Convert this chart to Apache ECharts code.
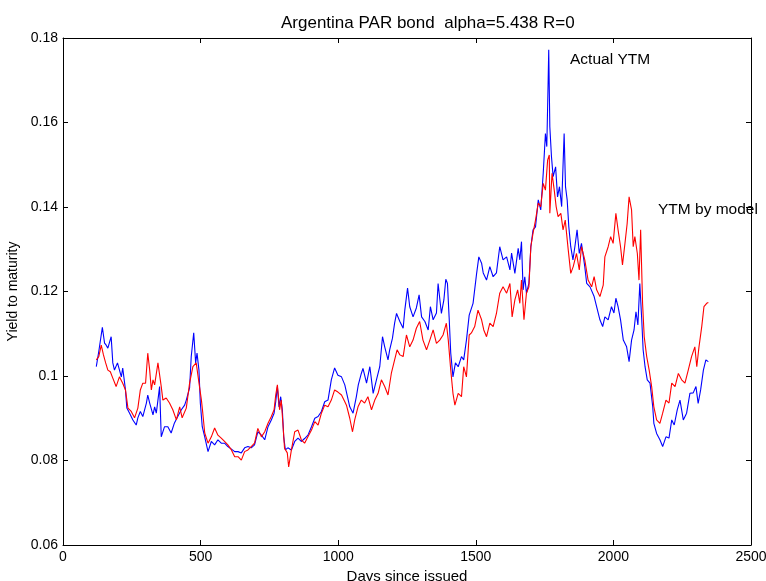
<!DOCTYPE html>
<html>
<head>
<meta charset="utf-8">
<script src="https://cdn.jsdelivr.net/npm/echarts/dist/echarts.min.js"></script>
<style>
html,body{margin:0;padding:0;background:#fff;overflow:hidden;}
#chart{width:766px;height:581px;}
</style>
</head>
<body>
<div id="chart"></div>
<script>
var titleText = 'Argentina PAR bond  alpha=5.438 R=0';
var xAxisName = 'Days since issued';
var yAxisName = 'Yield to maturity';
var actualLabel = 'Actual YTM';
var modelLabel = 'YTM by model';
var xTicks = [0, 500, 1000, 1500, 2000, 2500];
var yTicks = [0.06, 0.08, 0.10, 0.12, 0.14, 0.16, 0.18];

var actualDays = [121,130,143,151,157,163,175,181,187,198,
212,217,227,232,242,254,266,272,281,290,
303,308,315,327,333,339,345,351,357,369,
381,393,405,417,430,442,448,460,466,475,
482,487,494,499,506,515,527,539,551,563,
575,587,599,612,624,636,648,660,672,684,
696,708,721,733,745,757,767,773,779,785,
791,797,802,808,817,830,842,854,866,878,
890,903,915,927,939,951,963,975,987,999,
1012,1024,1042,1054,1066,1073,1084,1090,1103,1115,
1127,1139,1151,1161,1169,1181,1187,1197,1205,1212,
1224,1236,1242,1252,1260,1272,1284,1294,1303,1315,
1327,1335,1345,1357,1363,1375,1384,1391,1397,1403,
1409,1417,1426,1436,1448,1456,1466,1476,1490,1503,
1511,1521,1527,1539,1551,1563,1575,1587,1599,1612,
1624,1630,1642,1654,1660,1666,1672,1678,1684,1693,
1700,1708,1717,1727,1736,1745,1753,1758,1763,1765,
1769,1775,1781,1790,1797,1804,1812,1816,1821,1826,
1832,1838,1845,1853,1860,1868,1876,1884,1896,1903,
1915,1930,1939,1951,1961,1969,1981,1993,2002,2009,
2017,2026,2036,2048,2057,2066,2075,2082,2089,2096,
2103,2108,2115,2123,2133,2143,2147,2157,2169,2179,
2191,2202,2212,2221,2232,2242,2254,2266,2278,2290,
2300,2308,2317,2327,2336,2345];

var actualYtm = [0.1022,0.1058,0.1115,0.1078,0.1073,0.1066,0.1093,0.1031,0.1014,0.1031,
0.0998,0.1019,0.0967,0.0924,0.0912,0.0896,0.0884,0.0901,0.0916,0.0904,
0.0936,0.0955,0.0936,0.0908,0.0927,0.0912,0.0943,0.0975,0.0856,0.0880,
0.0880,0.0865,0.0889,0.0904,0.0920,0.0931,0.0943,0.0972,0.1046,0.1102,
0.1031,0.1054,0.1014,0.0936,0.0880,0.0856,0.0821,0.0845,0.0837,0.0849,
0.0841,0.0841,0.0833,0.0827,0.0821,0.0821,0.0818,0.0830,0.0833,0.0830,
0.0837,0.0868,0.0860,0.0849,0.0880,0.0896,0.0912,0.0939,0.0975,0.0927,
0.0951,0.0920,0.0856,0.0825,0.0830,0.0825,0.0845,0.0853,0.0845,0.0852,
0.0860,0.0880,0.0900,0.0904,0.0916,0.0939,0.0943,0.0991,0.1019,0.1002,
0.0998,0.0979,0.0927,0.0912,0.0951,0.0979,0.1006,0.1018,0.0983,0.1022,
0.0959,0.0991,0.1022,0.1093,0.1069,0.1038,0.1062,0.1089,0.1125,0.1148,
0.1129,0.1113,0.1156,0.1208,0.1164,0.1140,0.1161,0.1192,0.1140,0.1129,
0.1109,0.1164,0.1133,0.1149,0.1219,0.1148,0.1180,0.1229,0.1219,0.1140,
0.1054,0.0998,0.1031,0.1022,0.1046,0.1038,0.1085,0.1144,0.1172,0.1243,
0.1282,0.1267,0.1244,0.1227,0.1259,0.1235,0.1244,0.1306,0.1275,0.1282,
0.1251,0.1291,0.1243,0.1302,0.1275,0.1318,0.1204,0.1235,0.1196,0.1219,
0.1306,0.1346,0.1353,0.1417,0.1393,0.1480,0.1574,0.1543,0.1701,0.1772,
0.1590,0.1519,0.1472,0.1495,0.1424,0.1448,0.1401,0.1480,0.1574,0.1448,
0.1417,0.1353,0.1306,0.1275,0.1306,0.1346,0.1290,0.1314,0.1259,0.1219,
0.1211,0.1188,0.1164,0.1133,0.1117,0.1140,0.1133,0.1164,0.1149,0.1184,
0.1164,0.1133,0.1085,0.1069,0.1034,0.1085,0.1109,0.1152,0.1121,0.1219,
0.1133,0.1062,0.1022,0.0991,0.0983,0.0927,0.0888,0.0864,0.0849,0.0833,
0.0856,0.0853,0.0896,0.0884,0.0920,0.0943,0.0896,0.0912,0.0959,0.0960,
0.0975,0.0935,0.0967,0.1014,0.1038,0.1034];

var modelDays = [121,130,139,147,155,163,172,181,193,205,
217,227,236,248,260,272,281,290,300,308,
315,321,327,333,345,351,357,363,375,387,
399,412,424,433,448,460,472,484,496,503,
508,515,527,539,551,563,575,587,599,612,
624,636,648,660,672,684,696,708,721,733,
745,757,767,773,779,787,793,799,805,815,
820,830,842,854,866,878,890,903,915,927,
939,951,963,975,987,999,1012,1024,1030,1042,
1052,1060,1072,1084,1096,1108,1121,1133,1145,1157,
1169,1181,1193,1205,1214,1224,1236,1248,1260,1272,
1284,1296,1308,1321,1333,1345,1357,1369,1381,1393,
1400,1409,1417,1424,1436,1448,1456,1466,1476,1484,
1496,1508,1521,1529,1539,1551,1563,1575,1587,1599,
1612,1624,1632,1642,1652,1660,1666,1675,1684,1693,
1700,1708,1717,1727,1736,1745,1753,1761,1767,1769,
1777,1785,1792,1799,1809,1817,1825,1836,1845,1854,
1866,1876,1884,1896,1908,1921,1930,1939,1951,1963,
1969,1981,1990,1999,2009,2017,2026,2033,2042,2050,
2057,2066,2072,2078,2087,2093,2099,2106,2112,2121,
2130,2139,2147,2157,2169,2179,2191,2202,2212,2224,
2236,2248,2260,2272,2284,2296,2303,2311,2321,2329,
2339,2345];

var modelYtm = [0.1038,0.1046,0.1073,0.1050,0.1031,0.1014,0.1010,0.0995,0.0975,0.0998,
0.0983,0.0967,0.0924,0.0916,0.0901,0.0924,0.0967,0.0983,0.0983,0.1054,
0.1014,0.0967,0.0991,0.0979,0.1031,0.1031,0.0975,0.0943,0.0948,0.0936,
0.0920,0.0896,0.0927,0.0901,0.0924,0.0983,0.1022,0.1031,0.0975,0.0943,
0.0912,0.0865,0.0841,0.0856,0.0877,0.0860,0.0853,0.0845,0.0837,0.0825,
0.0809,0.0809,0.0801,0.0821,0.0825,0.0833,0.0841,0.0876,0.0856,0.0868,
0.0888,0.0904,0.0920,0.0955,0.0979,0.0920,0.0943,0.0888,0.0829,0.0818,
0.0785,0.0825,0.0868,0.0872,0.0849,0.0841,0.0856,0.0872,0.0892,0.0884,
0.0912,0.0931,0.0927,0.0943,0.0967,0.0962,0.0955,0.0939,0.0931,0.0900,
0.0868,0.0896,0.0927,0.0943,0.0936,0.0951,0.0920,0.0943,0.0959,0.0991,
0.0975,0.0955,0.1006,0.1038,0.1062,0.1050,0.1046,0.1097,0.1069,0.1085,
0.1113,0.1129,0.1085,0.1062,0.1085,0.1109,0.1077,0.1085,0.1097,0.1125,
0.1085,0.1014,0.0959,0.0931,0.0959,0.0951,0.1022,0.0998,0.1097,0.1102,
0.1117,0.1156,0.1133,0.1109,0.1093,0.1125,0.1117,0.1148,0.1196,0.1211,
0.1196,0.1219,0.1140,0.1180,0.1204,0.1172,0.1227,0.1133,0.1196,0.1211,
0.1306,0.1338,0.1369,0.1409,0.1401,0.1456,0.1440,0.1511,0.1523,0.1385,
0.1480,0.1440,0.1401,0.1377,0.1385,0.1346,0.1369,0.1298,0.1243,0.1259,
0.1290,0.1251,0.1306,0.1275,0.1227,0.1211,0.1235,0.1204,0.1188,0.1215,
0.1282,0.1306,0.1330,0.1314,0.1385,0.1346,0.1306,0.1263,0.1314,0.1361,
0.1424,0.1393,0.1306,0.1330,0.1290,0.1227,0.1346,0.1172,0.1093,0.1046,
0.1014,0.0975,0.0927,0.0896,0.0888,0.0912,0.0943,0.0936,0.0983,0.0975,
0.1006,0.0991,0.0983,0.1014,0.1046,0.1069,0.1022,0.1069,0.1117,0.1164,
0.1172,0.1174];

function zip(xs, ys) {
  var n = Math.min(xs.length, ys.length), out = [];
  for (var i = 0; i < n; i++) out.push([xs[i], ys[i]]);
  return out;
}

var FONT = '"Liberation Sans", Arial, Helvetica, sans-serif';
var black = '#000000';

function xAxisBase(pos, showLabels) {
  return {
    type: 'value', position: pos,
    min: xTicks[0], max: xTicks[xTicks.length - 1], interval: xTicks[1] - xTicks[0],
    axisLine: { show: true, onZero: false, lineStyle: { color: black, width: 1 } },
    axisTick: { show: true, inside: true, length: 5, lineStyle: { color: black, width: 1 } },
    axisLabel: { show: showLabels, color: black, fontSize: 14, fontFamily: FONT, margin: 5,
      hideOverlap: false, showMinLabel: true, showMaxLabel: true,
      formatter: function (v) { return String(v); } },
    splitLine: { show: false }
  };
}
function yAxisBase(pos, showLabels) {
  return {
    type: 'value', position: pos,
    min: yTicks[0], max: yTicks[yTicks.length - 1], interval: 0.02,
    axisLine: { show: true, onZero: false, lineStyle: { color: black, width: 1 } },
    axisTick: { show: true, inside: true, length: 5, lineStyle: { color: black, width: 1 } },
    axisLabel: { show: showLabels, color: black, fontSize: 14, fontFamily: FONT, margin: 5,
      showMinLabel: true, showMaxLabel: true,
      formatter: function (v) { return String(+v.toFixed(2)); } },
    splitLine: { show: false }
  };
}

var xb = xAxisBase('bottom', true);
xb.name = xAxisName; xb.nameLocation = 'middle'; xb.nameGap = 20;
xb.nameTextStyle = { color: black, fontSize: 15, fontFamily: FONT };
var yl = yAxisBase('left', true);
yl.name = yAxisName; yl.nameLocation = 'middle'; yl.nameGap = 36; yl.nameRotate = 90;
yl.nameTextStyle = { color: black, fontSize: 14, fontFamily: FONT };

var chart = echarts.init(document.getElementById('chart'), null, { renderer: 'canvas', width: 766, height: 581 });
chart.setOption({
  animation: false,
  backgroundColor: '#ffffff',
  title: {
    text: titleText, left: 276, top: 10,
    textStyle: { color: black, fontSize: 17, fontWeight: 'normal', fontFamily: FONT }
  },
  grid: { left: 63, right: 15, top: 38, bottom: 36, containLabel: false, outerBoundsMode: 'none' },
  xAxis: [xb, xAxisBase('top', false)],
  yAxis: [yl, yAxisBase('right', false)],
  graphic: [
    { type: 'text', left: 570, top: 52, style: { text: actualLabel, fill: black, font: '15.5px ' + FONT } },
    { type: 'text', left: 658, top: 202, style: { text: modelLabel, fill: black, font: '15.5px ' + FONT } }
  ],
  series: [
    { name: actualLabel, type: 'line', xAxisIndex: 0, yAxisIndex: 0, data: zip(actualDays, actualYtm),
      showSymbol: false, symbol: 'none', lineStyle: { color: '#0000ff', width: 1.1 }, itemStyle: { color: '#0000ff' } },
    { name: modelLabel, type: 'line', xAxisIndex: 0, yAxisIndex: 0, data: zip(modelDays, modelYtm),
      showSymbol: false, symbol: 'none', lineStyle: { color: '#ff0000', width: 1.1 }, itemStyle: { color: '#ff0000' } }
  ]
});
</script>
</body>
</html>
